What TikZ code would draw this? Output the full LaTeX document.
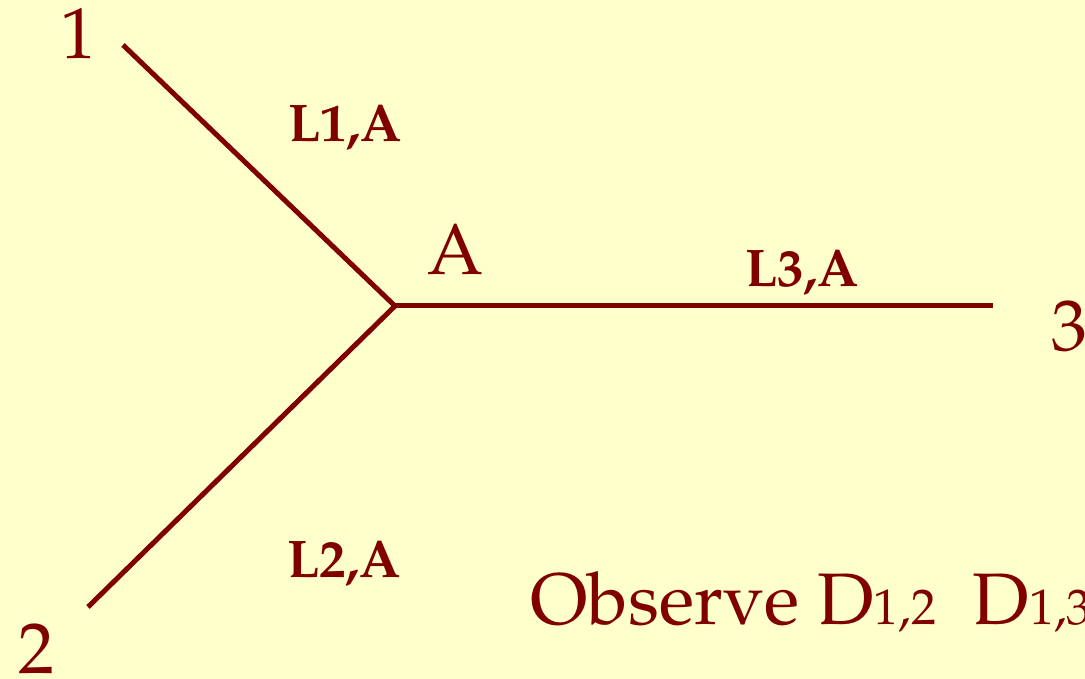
\documentclass[tikz,border=0pt]{standalone}
\usepackage[T1]{fontenc}
\usepackage{mathpazo}
\usepackage{tikz}
\usetikzlibrary{positioning}
\definecolor{slideBg}{RGB}{255,255,204}
\definecolor{lineRed}{RGB}{128,0,0}

\begin{document}
\begin{tikzpicture}[x=1pt, y=-1pt, line width=5pt,
    every node/.style={text=lineRed, inner sep=0pt, anchor=base},
    bigtext/.style={font=\fontsize{72}{80}\selectfont},
    linklabel/.style={font=\fontsize{53}{60}\selectfont\bfseries}]
    % slide background fixes the margins
    \fill[slideBg] (0,0) rectangle (1085,679);
    \useasboundingbox (0,0) rectangle (1085,679);
    % end points and the meeting point A
    \coordinate (p1) at (123,45);
    \coordinate (p2) at (88,607);
    \coordinate (p3) at (993,306);
    \coordinate (pA) at (395,306);
    \draw[lineRed] (p1) -- (pA) -- (p2);
    \draw[lineRed] (pA) -- (p3);
    % point names
    \node[bigtext] (n1) at (78,59) {1};
    \node[bigtext] (n2) at (37,673) {2};
    \node[bigtext] (n3) at (1069,350) {3};
    \node[bigtext] (nA) at (456,275) {A};
    % link labels
    \node[linklabel] (l1) at (345,142) {L1,A};
    \node[linklabel] (l3) at (802,287) {L3,A};
    \node[linklabel] (l2) at (344,577) {L2,A};
    \node[font=\fontsize{73}{82}\selectfont, anchor=base west] (obs) at (528,624)
      {Observe D{\fontsize{50}{56}\selectfont 1,2}\ \ D{\fontsize{50}{56}\selectfont 1,3}};
  \end{tikzpicture}
\end{document}
